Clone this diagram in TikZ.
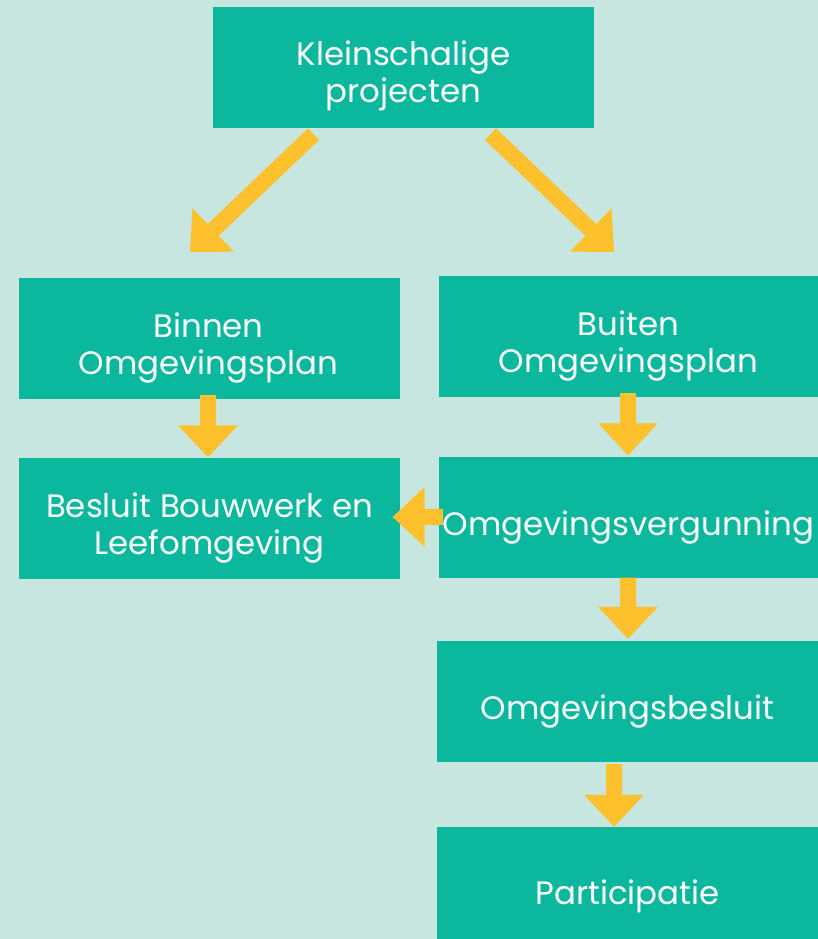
\documentclass[tikz,border=0pt]{standalone}
\usepackage{fontspec}
\setmainfont{Poppins}
\usetikzlibrary{calc}
\definecolor{bgmint}{HTML}{C6E6DF}
\definecolor{boxteal}{HTML}{0BB89E}
\definecolor{arrowyellow}{HTML}{FEC12E}
\tikzset{
  box/.style={fill=boxteal, draw=none, inner sep=0pt, minimum width=381pt, minimum height=121pt},
  txt/.style={text=white, font=\fontsize{32.4}{37}\selectfont, align=center, inner sep=0pt, anchor=base},
}
\newcommand\blockarrow[2]{%
  \coordinate (ha) at ($(#2)!32pt!(#1)$);
  \fill[arrowyellow] ($(#1)!8pt!90:(#2)$) -- ($(ha)!8pt!90:(#2)$) -- ($(ha)!30pt!90:(#2)$)
    -- (#2) -- ($(ha)!30pt!-90:(#2)$) -- ($(ha)!8pt!-90:(#2)$) -- ($(#1)!8pt!-90:(#2)$) -- cycle;
}
\begin{document}
\begin{tikzpicture}[x=1pt,y=1pt]
\fill[bgmint] (0,0) rectangle (818,939);
\useasboundingbox (0,0) rectangle (818,939);
\clip (0,0) rectangle (818,939);
% boxes
\node[box] (top) at (403.5,871) {};
\node[box] (binnen) at (209.5,600.5) {};
\node[box] (besluit) at (209.5,420.5) {};
\node[box, minimum width=379pt] (buiten) at (628.5,602.5) {};
\node[box, minimum width=379pt] (verg) at (628.5,421.5) {};
\node[box] (obes) at (627.5,237.5) {};
\node[box] (part) at (627.5,51.5) {};
% texts (base anchor = baseline of the last line)
\node[txt] (topT) at ($(top.center)+(0,-35)$) {Kleinschalige\\projecten};
\node[txt] (binnenT) at ($(binnen.center)+(-1,-36.5)$) {Binnen\\Omgevingsplan};
\node[txt] (besluitT) at ($(besluit.center)+(0,-36.5)$) {Besluit Bouwwerk en\\Leefomgeving};
\node[txt] (buitenT) at ($(buiten.center)+(0,-36.5)$) {Buiten\\Omgevingsplan};
\node[txt] (vergT) at ($(verg.center)+(0,-18.2)$) {Omgevingsvergunning};
\node[txt] (obesT) at ($(obes.center)+(0,-17.8)$) {Omgevingsbesluit};
\node[txt] (partT) at ($(part.center)+(0,-17.5)$) {Participatie};
% connector end points
\coordinate (a1s) at ($(top.south)+(-90,-5.5)$);
\coordinate (a1e) at (190,687);
\coordinate (a2s) at ($(top.south)+(87,-5.5)$);
\coordinate (a2e) at (614,687);
\coordinate (a3s) at ($(binnen.south)+(-1.5,4)$);
\coordinate (a3e) at ($(besluit.north)+(-1.5,0.5)$);
\coordinate (a4s) at ($(buiten.south)+(-0.5,4)$);
\coordinate (a4e) at ($(verg.north)+(-0.5,1.5)$);
\coordinate (a5s) at ($(verg.west)+(4,0.5)$);
\coordinate (a5e) at ($(besluit.east)+(-7.5,1.5)$);
\coordinate (a6s) at ($(verg.south)+(-0.5,0.5)$);
\coordinate (a6e) at ($(obes.north)+(0.5,2)$);
\coordinate (a7s) at ($(obes.south)+(-13.5,-2)$);
\coordinate (a7e) at ($(part.north)+(-13.5,0)$);
% connectors
\blockarrow{a1s}{a1e}
\blockarrow{a2s}{a2e}
\blockarrow{a3s}{a3e}
\blockarrow{a4s}{a4e}
\blockarrow{a5s}{a5e}
\blockarrow{a6s}{a6e}
\blockarrow{a7s}{a7e}
\end{tikzpicture}
\end{document}
